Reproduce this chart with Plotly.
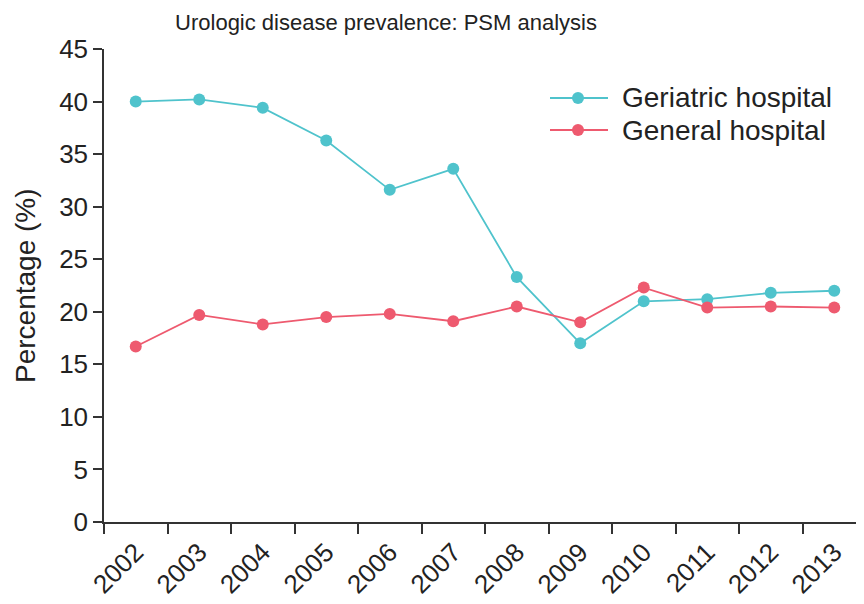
import plotly.graph_objects as go

years = ["2002", "2003", "2004", "2005", "2006", "2007", "2008", "2009", "2010", "2011", "2012", "2013"]
geriatric = [40.0, 40.2, 39.4, 36.3, 31.6, 33.6, 23.3, 17.0, 21.0, 21.2, 21.8, 22.0]
general = [16.7, 19.7, 18.8, 19.5, 19.8, 19.1, 20.5, 19.0, 22.3, 20.4, 20.5, 20.4]
series_names = ["Geriatric hospital", "General hospital"]
colors = ["#4FC3CC", "#EE5A6F"]
y_ticks = [0, 5, 10, 15, 20, 25, 30, 35, 40, 45]

FONT = "Liberation Sans, Arial, sans-serif"

OFF = 8  # page body margin in the browser
W, H = 858, 604
L, R, T, B = 96, 0, 41, 90
pw, ph = W - L - R, H - T - B

fig = go.Figure()
for name, vals, col in zip(series_names, [geriatric, general], colors):
    fig.add_trace(go.Scatter(
        x=years, y=vals, mode="lines+markers", name=name,
        line=dict(color=col, width=1.8),
        marker=dict(color=col, size=12),
        showlegend=False,
    ))

def px_x(sx):
    return (sx - OFF - L) / pw

def px_y(sy):
    return (H - B - (sy - OFF)) / ph

shapes = []
annotations = []
for i, (name, col) in enumerate(zip(series_names, colors)):
    yc = 98 + 32 * i
    shapes.append(dict(type="line", xref="paper", yref="paper",
                       x0=px_x(550), x1=px_x(608), y0=px_y(yc), y1=px_y(yc),
                       line=dict(color=col, width=1.8)))
    r = 6
    shapes.append(dict(type="circle", xref="paper", yref="paper",
                       x0=px_x(578 - r), x1=px_x(578 + r), y0=px_y(yc + r), y1=px_y(yc - r),
                       fillcolor=col, line=dict(color=col, width=0)))
    annotations.append(dict(text=name, xref="paper", yref="paper",
                            x=px_x(620), y=px_y(yc), xanchor="left", yanchor="middle",
                            showarrow=False, font=dict(family=FONT, size=28, color="#222")))

annotations.append(dict(text="Percentage (%)", xref="paper", yref="paper",
                        x=px_x(25), y=px_y(286), xanchor="center", yanchor="middle",
                        textangle=-90, showarrow=False,
                        font=dict(family=FONT, size=28, color="#222")))

fig.update_layout(
    width=W, height=H,
    margin=dict(l=L, r=R, t=T, b=B),
    paper_bgcolor="white", plot_bgcolor="white",
    title=dict(text="Urologic disease prevalence: PSM analysis",
               x=(386 - OFF) / W, xref="container", xanchor="center",
               y=1 - 14 / H, yref="container", yanchor="middle",
               font=dict(family=FONT, size=22, color="#222")),
    shapes=shapes, annotations=annotations,
    showlegend=False,
)
fig.update_xaxes(
    type="category", range=[-0.5, 11.5], automargin=False,
    tickson="boundaries", ticks="outside", ticklen=10, tickwidth=1.5, tickcolor="#333",
    showline=True, linecolor="#333", linewidth=1.5, showgrid=False, zeroline=False,
    tickangle=-45, ticklabelstandoff=3, tickfont=dict(family=FONT, size=26, color="#222"),
)
fig.update_yaxes(
    range=[0, 45], tickvals=y_ticks, ticktext=[str(v) for v in y_ticks], automargin=False,
    ticks="outside", ticklen=9, tickwidth=1.5, tickcolor="#333",
    showline=True, linecolor="#333", linewidth=1.5, showgrid=False, zeroline=False,
    tickfont=dict(family=FONT, size=26, color="#222"),
)

fig.write_html("out.html")
